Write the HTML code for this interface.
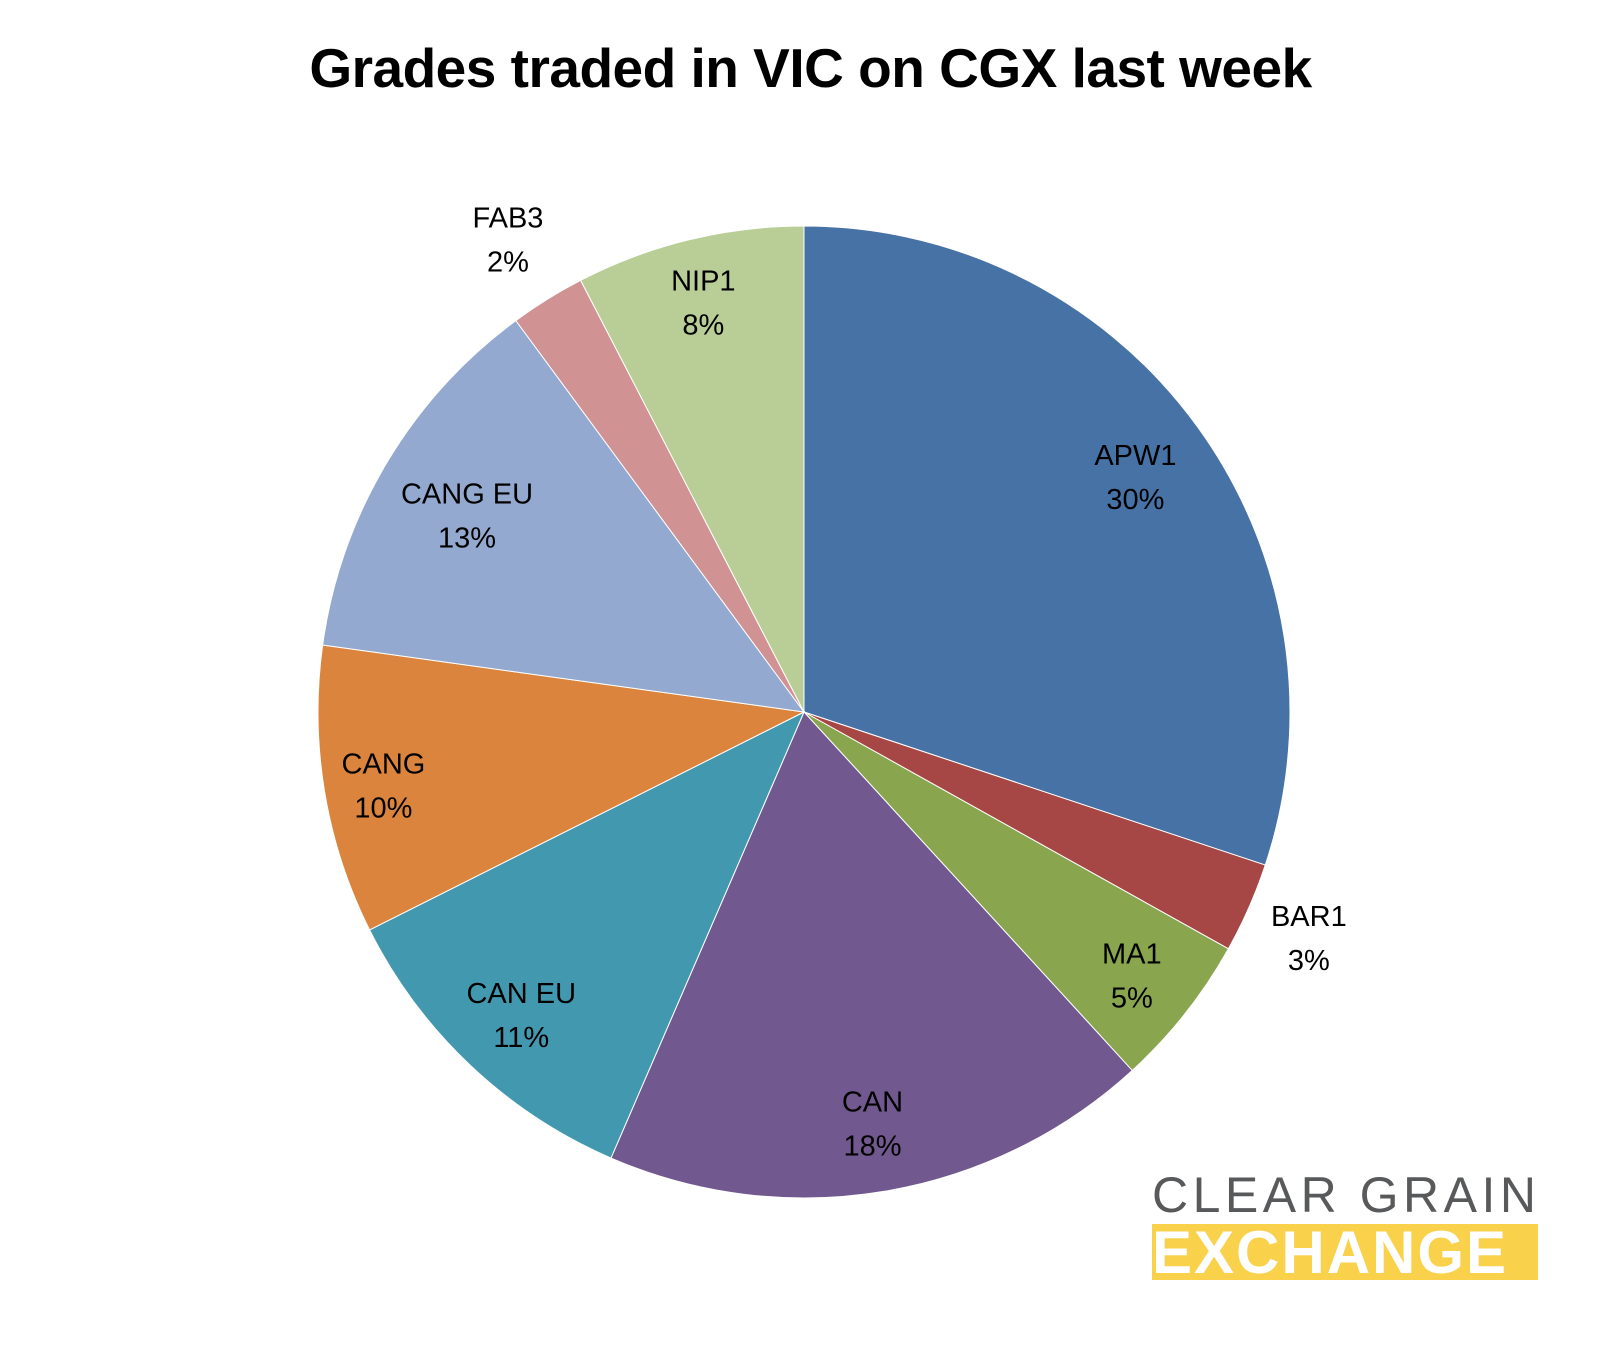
<!DOCTYPE html>
<html>
<head>
<meta charset="utf-8">
<style>
  html,body{margin:0;padding:0;background:#fff;}
  body{width:1609px;height:1350px;position:relative;overflow:hidden;font-family:"Liberation Sans",sans-serif;}
  #title{position:absolute;left:6px;top:36px;width:1609px;text-align:center;font-weight:bold;font-size:55px;color:#000;letter-spacing:-0.5px;}
  #logo{position:absolute;left:1152px;top:1170px;width:390px;}
  #logo-top{font-size:50px;color:#58595b;letter-spacing:4.5px;line-height:50px;white-space:nowrap;}
  #logo-bar{margin-top:4px;background:#f9d14b;height:56px;width:386px;color:#fff;font-weight:bold;font-size:60px;line-height:58px;letter-spacing:2px;overflow:hidden;white-space:nowrap;}
</style>
</head>
<body>
<div id="title">Grades traded in VIC on CGX last week</div>
<svg id="chart" width="1609" height="1350" style="position:absolute;left:0;top:0"></svg>
<div id="logo">
  <div id="logo-top">CLEAR GRAIN</div>
  <div id="logo-bar">EXCHANGE</div>
</div>
<script>
const categories = ["APW1","BAR1","MA1","CAN","CAN EU","CANG","CANG EU","FAB3","NIP1"];
const values = [30.1, 3.0, 5.1, 18.3, 11.1, 9.6, 12.7, 2.5, 7.6];
const pctLabels = ["30%","3%","5%","18%","11%","10%","13%","2%","8%"];
const colors = ["#4672a6","#a74745","#89a54e","#71588f","#4198af","#db843d","#93a9cf","#d09293","#b9cd96"];
const labelR = [0.841, 1.135, 0.86, 0.85, 0.847, 0.877, 0.807, 1.154, 0.876];

const svg = document.getElementById('chart');
const NS = "http://www.w3.org/2000/svg";
const cx = 804, cy = 712, R = 486;
const total = values.reduce((a,b)=>a+b,0);
function pt(frac, r){ const a = frac*2*Math.PI; return [cx + r*Math.sin(a), cy - r*Math.cos(a)]; }
let acc = 0;
values.forEach((v,i)=>{
  const s = acc/total, e = (acc+v)/total; acc += v;
  const [x1,y1] = pt(s,R), [x2,y2] = pt(e,R);
  const large = (e-s) > 0.5 ? 1 : 0;
  const p = document.createElementNS(NS,'path');
  p.setAttribute('d', `M${cx},${cy} L${x1},${y1} A${R},${R} 0 ${large} 1 ${x2},${y2} Z`);
  p.setAttribute('fill', colors[i]);
  p.setAttribute('stroke', '#fff');
  p.setAttribute('stroke-width', '1');
  
  
  svg.appendChild(p);
  const m = (s+e)/2;
  const [lx,ly] = pt(m, R*labelR[i]);
  const t = document.createElementNS(NS,'text');
  t.setAttribute('x', lx);
  t.setAttribute('y', ly - 8);
  t.setAttribute('text-anchor','middle');
  t.setAttribute('font-family','"Liberation Sans", sans-serif');
  t.setAttribute('font-size','29');
  t.setAttribute('fill','#000');
  
  
  const a = document.createElementNS(NS,'tspan');
  a.setAttribute('x', lx); a.textContent = categories[i];
  const b = document.createElementNS(NS,'tspan');
  b.setAttribute('x', lx); b.setAttribute('dy','44'); b.textContent = pctLabels[i];
  t.appendChild(a); t.appendChild(b);
  svg.appendChild(t);
});
</script>
</body>
</html>
